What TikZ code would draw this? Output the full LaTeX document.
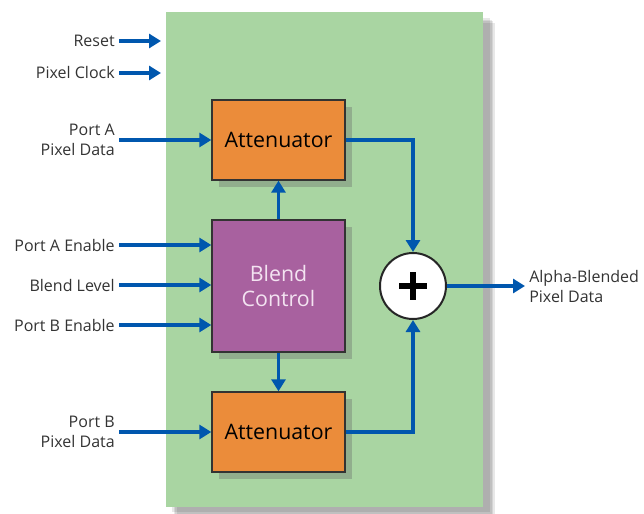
\documentclass[tikz,border=0pt]{standalone}
\usepackage{fontspec}
\setmainfont{Open Sans}
\usetikzlibrary{arrows.meta,shadows}
\definecolor{panelgreen}{HTML}{A9D5A2}
\definecolor{attorange}{HTML}{EB8C3A}
\definecolor{blendpurple}{HTML}{A8619F}
\definecolor{wireblue}{HTML}{0057AE}
\definecolor{blendtext}{HTML}{F3E3F1}
\begin{document}
\begin{tikzpicture}[x=0.75pt,y=-0.75pt,
  block/.style={draw=black!80,line width=1pt,minimum width=133*0.75pt,
    font=\fontsize{16}{19}\selectfont,
    drop shadow={shadow xshift=5pt,shadow yshift=-5pt,fill=black!60,opacity=0.35}},
  lbl/.style={anchor=east,align=right,inner sep=3pt,font=\fontsize{12}{15}\selectfont,text=black!80},
  wire/.style={draw=wireblue,line width=2.6pt},
  sig/.style={wire,-{Triangle[length=9pt,width=10.5pt]}}]
  \useasboundingbox (0,0) rectangle (644,514);

  % panel and its shadow
  \foreach \d in {0,1.5,3,4.5}
    \fill[black,opacity=0.09] (172+\d,18+\d) rectangle (490+\d,512+\d);
  \node[fill=panelgreen,minimum width=317*0.75pt,minimum height=495*0.75pt,inner sep=0pt] (panel) at (324.5,259.5) {};

  % blocks
  \node[block,fill=attorange,minimum height=80*0.75pt] (attA) at (278.5,140) {Attenuator};
  \node[block,fill=blendpurple,minimum height=132*0.75pt,text=blendtext,align=center] (blend) at (278.5,286) {Blend\\Control};
  \node[block,fill=attorange,minimum height=80*0.75pt] (attB) at (278.5,432) {Attenuator};
  \node[shape=circle,draw=black!85,line width=1.5pt,fill=white,minimum size=66*0.75pt,inner sep=0pt] (sum) at (413,286) {};
  \draw[line width=4pt] (sum.center) ++(-14,0) -- ++(28,0);
  \draw[line width=4pt] (sum.center) ++(0,-14) -- ++(0,28);

  % labels
  \node[lbl] (reset) at (119,41) {Reset};
  \node[lbl] (clock) at (119,73) {Pixel Clock};
  \node[lbl] (dataA) at (119,140) {Port A\\Pixel Data};
  \node[lbl] (enA) at (119,245) {Port A Enable};
  \node[lbl] (level) at (119,285) {Blend Level};
  \node[lbl] (enB) at (119,325) {Port B Enable};
  \node[lbl] (dataB) at (119,432) {Port B\\Pixel Data};
  \node[anchor=west,align=left,inner sep=3pt,font=\fontsize{12}{15}\selectfont,text=black!80] (out) at (525,286) {Alpha-Blended\\Pixel Data};

  \coordinate (resetend) at (161,41);
  \coordinate (clockend) at (161,73);

  % wires
  \path[sig] (reset.east) -- (resetend);
  \path[sig] (clock.east) -- (clockend);
  \path[sig] (dataA.east) -- (attA.west);
  \path[sig] (enA.east) -- (enA.east -| blend.west);
  \path[sig] (level.east) -- (level.east -| blend.west);
  \path[sig] (enB.east) -- (enB.east -| blend.west);
  \path[sig] (dataB.east) -- (attB.west);
  \path[sig] (blend.north) -- (attA.south);
  \path[sig] (blend.south) -- (attB.north);
  \path[sig] (attA.east) -| (sum.north);
  \path[sig] (attB.east) -| (sum.south);
  \path[sig] (sum.east) -- (out.west);

\end{tikzpicture}
\end{document}
